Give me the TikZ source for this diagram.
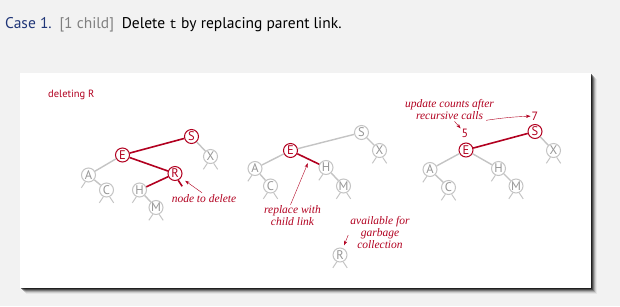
\documentclass[tikz,border=0pt]{standalone}
\usepackage{fontspec}
\setmainfont{Liberation Serif}
\setsansfont{PT Sans}
\setmonofont{Liberation Mono}
\usetikzlibrary{arrows.meta}

\definecolor{bstred}{RGB}{178,0,32}
\definecolor{bstgray}{RGB}{196,196,196}
\definecolor{keygray}{RGB}{150,150,150}
\definecolor{casecol}{RGB}{32,54,120}
\definecolor{pagebg}{RGB}{242,242,242}

\tikzset{
    key/.style={circle, draw=bstgray, fill=white, line width=1pt, minimum size=14pt,
        inner sep=0pt, text=keygray, font=\sffamily\fontsize{12.5}{12.5}\selectfont},
    redkey/.style={key, draw=bstred, text=bstred},
    link/.style={draw=bstgray, line width=1.4pt},
    redlink/.style={draw=bstred, line width=1.6pt},
    nil/.style={draw=bstgray, line width=1pt},
    note/.style={text=bstred, font=\rmfamily\itshape\fontsize{11.5}{12}\selectfont, align=center, inner sep=0pt},
    >={Stealth[length=4.5pt,width=3.2pt]},
}

\begin{document}
\begin{tikzpicture}[x=1pt, y=-1pt]
    % page and card
    \fill[pagebg] (0,0) rectangle (620,306);
    \foreach \d/\o in {6/0.05,5/0.1,4/0.18,3/0.28,2/0.4,1/0.55}
        \fill[black, opacity=\o] (20+\d,73+\d) rectangle (591+\d,288+\d);
    \fill[white] (20,73) rectangle (591,288);

    \node[anchor=base west, inner sep=0pt, font=\sffamily\fontsize{15.5}{15.5}\selectfont] (title) at (5,28.5)
        {\textcolor{casecol}{Case 1.}\enspace\textcolor{gray}{[1 child]}\enspace Delete \texttt{\fontsize{13}{13}\selectfont t} by replacing parent link.};

    \node[anchor=west, inner sep=0pt, text=bstred, font=\sffamily\fontsize{10.5}{10.5}\selectfont] (lbl) at (48,95) {deleting R};

    % before: R is found
    \node[redkey] (S1) at (191.5,136.5) {S};
    \node[redkey] (E1) at (122.5,155) {E};
    \node[redkey] (R1) at (175,173.5) {R};
    \node[key] (X1) at (210.5,156.5) {X};
    \node[key] (A1) at (88.5,175) {A};
    \node[key] (C1) at (106.5,190) {C};
    \node[key] (H1) at (139.5,190) {H};
    \node[key] (M1) at (156,207.5) {M};

    \draw[link] (S1) -- (X1) (E1) -- (A1) (A1) -- (C1) (H1) -- (M1);
    \draw[redlink] (S1) -- (E1) (E1) -- (R1) (R1) -- (H1);
    \draw[redlink] (R1.-65) -- ++(4,6);

    \node[note] (del) at (204,199) {node to delete};
    \draw[->, bstred, thin, shorten >=5pt] (del.north) ++(-2,-2) -- (R1);

    % R replaced by its left child
    \node[key] (S2) at (361.5,132.5) {S};
    \node[redkey] (E2) at (290.5,150.5) {E};
    \node[key] (X2) at (379.5,150.5) {X};
    \node[key] (A2) at (255,168.5) {A};
    \node[key] (C2) at (270.5,186) {C};
    \node[key] (H2) at (326,167.5) {H};
    \node[key] (M2) at (343.5,186) {M};
    \node[key] (R2) at (340,255) {R};

    \draw[link] (S2) -- (E2) (S2) -- (X2) (E2) -- (A2) (A2) -- (C2) (H2) -- (M2);
    \draw[redlink] (E2) -- coordinate[pos=.55] (eh) (H2);

    \node[note] (repl) at (292.5,216) {replace with\\child link};
    \draw[->, bstred, thin, shorten >=4pt] (repl.north) ++(-2,-1) -- (eh);

    \node[note] (gc) at (380,233) {available for\\garbage\\collection};
    \draw[->, bstred, thin, shorten >=3pt] (gc.west) ++(-2,2) -- (R2);

    % after: counts fixed on the way up
    \node[redkey] (S3) at (535,131.5) {S};
    \node[redkey] (E3) at (466,150) {E};
    \node[key] (X3) at (553.5,150.5) {X};
    \node[key] (A3) at (430,169.5) {A};
    \node[key] (C3) at (448.5,187.5) {C};
    \node[key] (H3) at (498.5,168.5) {H};
    \node[key] (M3) at (516,186) {M};

    \draw[link] (S3) -- (X3) (E3) -- (A3) (A3) -- (C3) (E3) -- (H3) (H3) -- (M3);
    \draw[redlink] (S3) -- (E3);

    \node[text=bstred, font=\sffamily\fontsize{12}{12}\selectfont, inner sep=1pt] (n7) at (535,116) {7};
    \node[text=bstred, font=\sffamily\fontsize{12}{12}\selectfont, inner sep=1pt] (n5) at (465,133.5) {5};
    \node[note] (upd) at (449.5,110) {update counts after\\recursive calls};
    \draw[->, bstred, thin] (upd.south east) ++(-8,0) to[bend left=3] (n7);
    \draw[->, bstred, thin] (upd.south) ++(5,1) -- (n5);

    % null links
    \foreach \n in {X1,C1,M1,X2,C2,M2,R2,X3,C3,M3}
        \draw[nil] (\n.-115) -- ++(-4,6) (\n.-65) -- ++(4,6);
    \foreach \n in {A1,H1,A2,H2,A3,H3}
        \draw[nil] (\n.-115) -- ++(-4,6);
\end{tikzpicture}
\end{document}
